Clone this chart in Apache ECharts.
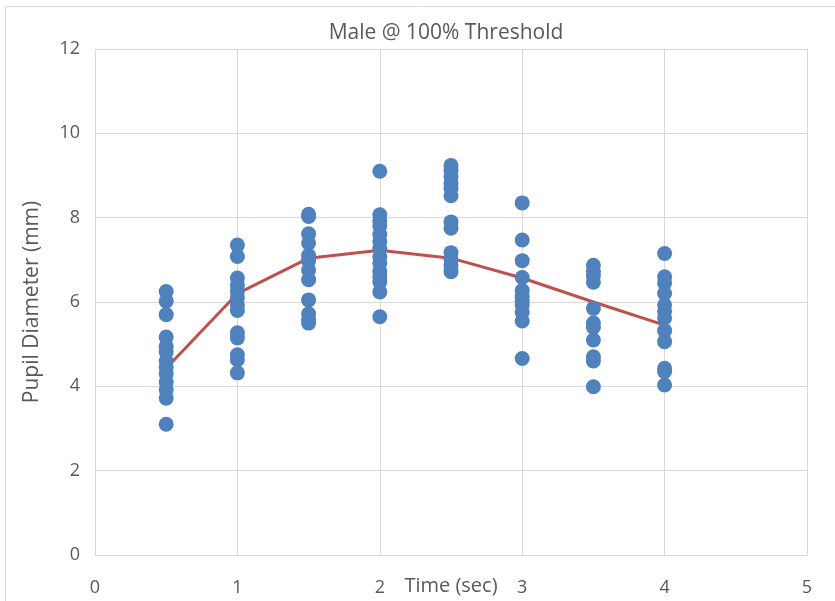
<!DOCTYPE html>
<html><head><meta charset="utf-8">
<script src="https://cdn.jsdelivr.net/npm/echarts@6/dist/echarts.min.js"></script>
<style>html,body{margin:0;padding:0;background:#fff}#c{width:835px;height:601px}</style>
</head><body><div id="c"></div>
<script>
const times = [0.5, 1, 1.5, 2, 2.5, 3, 3.5, 4];
const obs_05 = [6.25, 6.02, 5.7, 5.17, 4.95, 4.82, 4.6, 4.45, 4.3, 4.1, 3.92, 3.72, 3.1];
const obs_10 = [7.35, 7.08, 6.57, 6.4, 6.25, 6.1, 5.93, 5.8, 5.27, 5.15, 4.75, 4.63, 4.32];
const obs_15 = [8.08, 8.03, 7.62, 7.4, 7.1, 6.98, 6.76, 6.53, 6.05, 5.72, 5.58, 5.5];
const obs_20 = [9.1, 8.07, 7.92, 7.8, 7.6, 7.44, 7.27, 7.07, 6.92, 6.72, 6.6, 6.48, 6.24, 5.65];
const obs_25 = [9.24, 9.12, 8.97, 8.81, 8.69, 8.52, 7.9, 7.75, 7.17, 7.0, 6.87, 6.72];
const obs_30 = [8.35, 7.47, 6.98, 6.58, 6.27, 6.13, 6.02, 5.93, 5.75, 5.55, 4.66];
const obs_35 = [6.87, 6.73, 6.62, 6.47, 5.85, 5.5, 5.4, 5.1, 4.7, 4.6, 3.99];
const obs_40 = [7.15, 6.6, 6.45, 6.2, 5.93, 5.78, 5.62, 5.32, 5.06, 4.43, 4.35, 4.03];
const meanLine = [4.43, 6.2, 7.04, 7.23, 7.04, 6.57, 6.0, 5.45];
const xTicks = [0, 1, 2, 3, 4, 5];
const yTicks = [0, 2, 4, 6, 8, 10, 12];

const groups = [obs_05, obs_10, obs_15, obs_20, obs_25, obs_30, obs_35, obs_40];
const scatterData = [];
groups.forEach((g, i) => g.forEach(v => scatterData.push([times[i], v])));
const lineData = times.map((t, i) => [t, meanLine[i]]);

const font = 'Open Sans, Noto Sans, sans-serif';
const chart = echarts.init(document.getElementById('c'));
chart.setOption({
  animation: false,
  title: {
    text: 'Male @ 100% Threshold', left: 441, top: 18, textAlign: 'center',
    textStyle: { fontFamily: font, fontSize: 21, fontWeight: 'normal', color: '#595959' }
  },
  graphic: [{
    type: 'rect', shape: { x: 5.5, y: 6.5, width: 840, height: 600 },
    style: { fill: 'none', stroke: '#d9d9d9', lineWidth: 1 }, silent: true
  }, {
    type: 'text', x: 451, y: 586, silent: true,
    style: { text: 'Time (sec)', align: 'center', verticalAlign: 'middle',
      font: '20px ' + font, fill: '#595959' }
  }],
  grid: { left: 95, right: 28, top: 49, bottom: 46, containLabel: false, outerBoundsMode: 'none' },
  xAxis: {
    type: 'value', min: 0, max: 5, interval: 1,
    axisLine: { lineStyle: { color: '#d9d9d9' } },
    axisTick: { show: false },
    axisLabel: { fontFamily: font, fontSize: 18, color: '#595959', margin: 24,
      formatter: v => xTicks.includes(v) ? String(v) : '' },
    splitLine: { show: true, lineStyle: { color: '#d9d9d9', width: 1 } }
  },
  yAxis: {
    type: 'value', min: 0, max: 12, interval: 2,
    name: 'Pupil Diameter (mm)', nameLocation: 'middle', nameGap: 52,
    nameTextStyle: { fontFamily: font, fontSize: 21, color: '#595959' },
    axisLine: { show: false }, axisTick: { show: false },
    axisLabel: { fontFamily: font, fontSize: 18, color: '#595959', margin: 15,
      formatter: v => yTicks.includes(v) ? String(v) : '' },
    splitLine: { show: true, lineStyle: { color: '#d9d9d9', width: 1 } }
  },
  series: [
    { type: 'scatter', data: scatterData, symbolSize: 15, z: 3,
      itemStyle: { color: '#4f81bd', opacity: 1 } },
    { type: 'line', data: lineData, showSymbol: false, z: 2,
      lineStyle: { color: '#c0504d', width: 3 } }
  ]
});
</script></body></html>
